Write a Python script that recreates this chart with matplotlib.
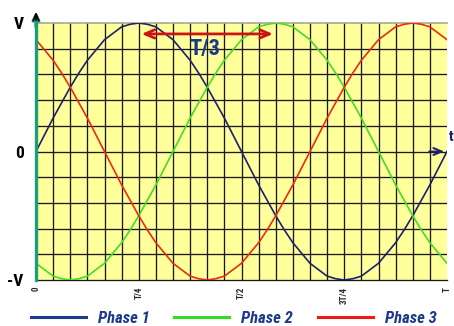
import matplotlib
matplotlib.use("Agg")
import matplotlib.pyplot as plt
import numpy as np
from matplotlib.lines import Line2D

# one period, read every half grid cell (T/48 steps)
steps = np.arange(49)
phase1 = [0, .13, .26, .38, .5, .61, .71, .79, .87, .92, .97, .99, 1,
          .99, .97, .92, .87, .79, .71, .61, .5, .38, .26, .13, 0,
          -.13, -.26, -.38, -.5, -.61, -.71, -.79, -.87, -.92, -.97, -.99, -1,
          -.99, -.97, -.92, -.87, -.79, -.71, -.61, -.5, -.38, -.26, -.13, 0]
phase2 = [-.87, -.92, -.97, -.99, -1, -.99, -.97, -.92, -.87, -.79, -.71, -.61,
          -.5, -.38, -.26, -.13, 0, .13, .26, .38, .5, .61, .71, .79, .87,
          .92, .97, .99, 1, .99, .97, .92, .87, .79, .71, .61, .5, .38, .26,
          .13, 0, -.13, -.26, -.38, -.5, -.61, -.71, -.79, -.87]
phase3 = [.87, .79, .71, .61, .5, .38, .26, .13, 0, -.13, -.26, -.38, -.5,
          -.61, -.71, -.79, -.87, -.92, -.97, -.99, -1, -.99, -.97, -.92, -.87,
          -.79, -.71, -.61, -.5, -.38, -.26, -.13, 0, .13, .26, .38, .5, .61,
          .71, .79, .87, .92, .97, .99, 1, .99, .97, .92, .87]
names = ["Phase 1", "Phase 2", "Phase 3"]
colors = ["#1f1f6e", "#44dd22", "#ee2a10"]
xtick_pos = [0, 0.25, 0.5, 0.75, 1.0]
xtick_lab = ["0", "T/4", "T/2", "3T/4", "T"]

narrow = ["Roboto Condensed", "Liberation Sans Narrow", "DejaVu Sans"]
navy = "#1c3a8c"

t = steps / 48
fig = plt.figure(figsize=(4.54, 3.26), dpi=100)
ax = fig.add_axes([36 / 454, 1 - 280 / 326, 411 / 454, 257 / 326])
ax.set_facecolor("#ffff9c")
ax.set_xlim(0, 411 / 418)
ax.set_ylim(-1, 1)

for k in range(1, 24):
    ax.axvline(k / 24, color="#1a1a1a", lw=0.95, zorder=1)
for v in np.arange(-0.8, 1.0, 0.2):
    ax.axhline(v, color="#1a1a1a", lw=0.95, zorder=1)

for vals, c in zip([phase1, phase2, phase3], colors):
    ax.plot(t, vals, color=c, lw=1.2, zorder=3)

ax.spines["right"].set_visible(False)
ax.spines["top"].set_color("#a8a890")
ax.spines["top"].set_linewidth(1.2)
ax.spines["bottom"].set_color("#1a1a1a")
ax.spines["bottom"].set_linewidth(0.95)
ax.spines["left"].set_color("#1a9e7e")
ax.spines["left"].set_linewidth(2.4)
ax.spines["left"].set_zorder(4)

ax.set_xticks(xtick_pos)
ax.set_xticklabels(xtick_lab, rotation=90, fontsize=6.5, fontweight="bold",
                   color="#2a2a2a", family=narrow, stretch="condensed")
ax.set_yticks([-1, 0, 1])
ax.set_yticklabels(["-V", "0", "V"], fontsize=12.5, fontweight="bold",
                   family=narrow, stretch="condensed")
ax.tick_params(length=0)
ax.tick_params(axis="y", pad=9)
ax.tick_params(axis="x", pad=5)

# vertical axis arrow
ax.annotate("", xy=(0, 1.11), xytext=(0, 0.95), xycoords="data",
            arrowprops=dict(arrowstyle="->", color="#1a9e7e", lw=2.4),
            annotation_clip=False, zorder=5)
ax.annotate("", xy=(0, 1.11), xytext=(0, 1.0), xycoords="data",
            arrowprops=dict(arrowstyle="->,head_length=0.5,head_width=0.2",
                            color="black", lw=1.2),
            annotation_clip=False, zorder=6)
# time axis arrow
ax.annotate("", xy=(1.0, 0), xytext=(0.95, 0),
            arrowprops=dict(arrowstyle="->,head_length=0.6,head_width=0.25",
                            color="#1f1f6e", lw=1.4),
            annotation_clip=False, zorder=5)
ax.text(1.005, 0.06, "t", color="#1f1f6e", fontsize=11, fontweight="bold",
        family=narrow, ha="left", va="bottom", clip_on=False)

# T/3 spacing
ax.annotate("", xy=(0.25, 0.915), xytext=(0.25 + 1 / 3, 0.915),
            arrowprops=dict(arrowstyle="<->,head_length=0.7,head_width=0.3",
                            color="#cc1414", lw=2.0),
            zorder=5)
ax.text(0.41, 0.795, "T/3", color=navy, fontsize=16, fontweight="bold",
        family=narrow, stretch="condensed", ha="center", va="center", zorder=5)

handles = [Line2D([], [], color=c, lw=2.2) for c in [navy, "#33dd22", "#ee1c10"]]
leg = fig.legend(handles, names, loc="center", bbox_to_anchor=(0.515, 0.022),
                 ncol=3, frameon=False, handlelength=3.3, handletextpad=0.72,
                 columnspacing=1.5, borderpad=0,
                 prop=dict(family=narrow, weight="bold", style="italic",
                           stretch="condensed", size=12))
for txt in leg.get_texts():
    txt.set_color(navy)

fig.savefig("out.png", dpi=100)
